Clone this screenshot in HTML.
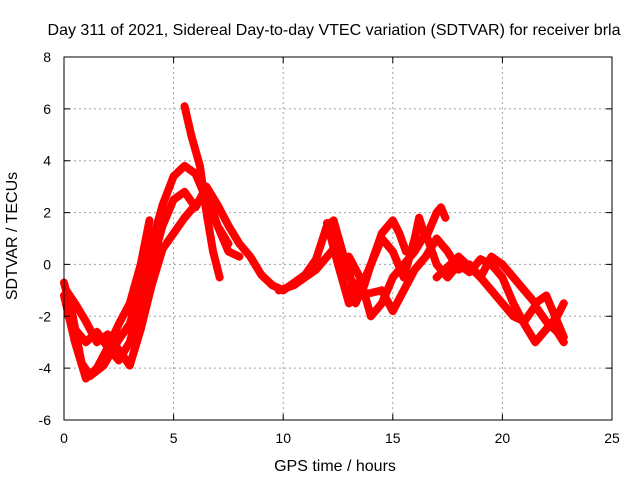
<!DOCTYPE html>
<html><head><meta charset="utf-8"><style>
body{margin:0;background:#fff;}
svg{display:block;font-family:"Liberation Sans",sans-serif;}
</style></head><body>
<svg id="chart" width="640" height="480">
<rect width="640" height="480" fill="#fff"/>
<g id="grid"></g><g id="series"></g><g id="axes"></g>
</svg>
<script>
const xTicks=[0,5,10,15,20,25];
const yTicks=[-6,-4,-2,0,2,4,6,8];
const s1=[[0,-0.7],[0.4,-2],[0.8,-3.8],[1.2,-4.3],[1.8,-3.9],[2.5,-2.9],[3,-2.3],[3.5,-0.8],[4,0.8],[4.5,2.3],[5,3.4],[5.5,3.8],[6,3.5],[6.5,2.5],[7,1.5],[7.5,0.8]];
const s2=[[0,-1.2],[0.5,-3],[1,-4.4],[1.5,-4],[2,-3.2],[2.5,-2.3],[3,-1.5],[3.5,0],[3.9,1.7]];
const s3=[[0.2,-2],[0.5,-2.5],[1,-3],[1.5,-2.6],[2,-3.2],[2.5,-3.7],[3,-3],[3.5,-1.5],[4,0],[4.5,1.5],[5,2.5],[5.5,2.8],[6,2.2],[6.5,3.0],[7,2.3],[7.5,1.5],[8,0.8],[8.5,0.3],[9,-0.4],[9.5,-0.8]];
const s4=[[0.1,-1],[0.5,-1.5],[1,-2.2],[1.5,-3],[2,-2.7],[2.5,-3.3],[3,-3.9],[3.5,-2.5],[4,-0.8],[4.5,0.6],[5,1.2],[5.5,1.8],[6,2.3],[6.5,2.8],[7,1.5],[7.5,0.5],[8,0.3]];
const s5=[[5.5,6.1],[5.8,5],[6.2,3.8],[6.5,2],[6.8,0.5],[7.1,-0.5]];
const s6=[[9.5,-0.8],[10,-1],[10.5,-0.7],[11,-0.4],[11.5,0.2],[12,1.5],[12.3,1.7],[12.7,0.5],[13,-0.5],[13.5,-1],[14,0],[14.5,1.2],[15,1.7],[15.3,1.2],[15.6,0.5]];
const s7=[[9.8,-1],[10.5,-0.8],[11,-0.5],[11.5,-0.2],[12,0.3],[12.5,0.8],[13,-0.2],[13.3,-1.5],[13.7,-0.8],[14,0],[14.5,1],[15,0.5],[15.5,-0.5],[16,1],[16.2,1.8],[16.5,1],[17,2],[17.2,2.2],[17.4,1.8]];
const s8=[[13,0.3],[13.5,-0.5],[14,-2],[14.5,-1.5],[15,-0.5],[15.5,0],[16,0.5],[16.5,1.2],[17,0],[17.5,-0.5],[18,0],[18.5,-0.3],[19,0.2],[19.5,0],[20,-0.5],[20.5,-1.5],[21,-2.3],[21.5,-3],[22,-2.5],[22.5,-2],[22.8,-1.5]];
const s9=[[12,1.6],[12.5,0],[13,-1.5],[13.5,-1.2],[14.5,-1],[15,-1.8],[15.5,-1],[16,-0.2],[16.5,0.3],[17,1],[17.5,0.5],[18,-0.2],[18.5,0],[19,-0.5],[19.5,0.3],[20,0],[20.5,-0.5],[21,-1],[21.5,-1.5],[22,-1.2],[22.5,-2.2],[22.8,-2.8]];
const s10=[[17,-0.5],[18,0.3],[19,-0.5],[20,-1.5],[20.5,-2],[21,-2.2],[21.5,-1.6],[22,-2.2],[22.5,-2.6],[22.8,-3]];
const allSeries=[s1,s2,s3,s4,s5,s6,s7,s8,s9,s10];

const X0=64,X1=612,Y0=420,Y1=57;
const xs=h=>X0+(h-0)/25*(X1-X0);
const ys=v=>Y0-(v+6)/14*(Y0-Y1);
const NS="http://www.w3.org/2000/svg";
function mk(tag,attrs,parent){const e=document.createElementNS(NS,tag);for(const k in attrs)e.setAttribute(k,attrs[k]);parent.appendChild(e);return e;}
const grid=document.getElementById('grid'),axes=document.getElementById('axes'),ser=document.getElementById('series');
xTicks.forEach(t=>{
  if(t>0&&t<25){const l=mk('line',{x1:xs(t),x2:xs(t),y1:Y1,y2:Y0,stroke:'#a0a0a0','stroke-dasharray':'2,3'},grid);
  
  }
  const tk=mk('path',{d:`M${xs(t)},${Y0}v-6M${xs(t)},${Y1}v6`,stroke:'#000'},axes);
  
  
  const tx=mk('text',{x:xs(t),y:Y0+23,'text-anchor':'middle','font-size':'14',fill:'#000'},axes);tx.textContent=t;
  
  
});
yTicks.forEach(t=>{
  if(t>-6&&t<8){const l=mk('line',{x1:X0,x2:X1,y1:ys(t),y2:ys(t),stroke:'#a0a0a0','stroke-dasharray':'2,3'},grid);
  
  }
  const tk=mk('path',{d:`M${X0},${ys(t)}h6M${X1},${ys(t)}h-6`,stroke:'#000'},axes);
  
  
  const tx=mk('text',{x:X0-13,y:ys(t)+5,'text-anchor':'end','font-size':'14',fill:'#000'},axes);tx.textContent=t;
  
  
});
const fr=mk('rect',{x:X0,y:Y1,width:X1-X0,height:Y0-Y1,fill:'none',stroke:'#000','stroke-width':1},axes);


allSeries.forEach((s,i)=>{
  const pl=mk('polyline',{points:s.map(p=>xs(p[0])+','+ys(p[1])).join(' '),fill:'none',stroke:'#ff0000','stroke-width':8,'stroke-linejoin':'round','stroke-linecap':'round'},ser);
  
  
  s.forEach(p=>{
    const m=mk('path',{d:`M${xs(p[0])-4},${ys(p[1])}h8M${xs(p[0])},${ys(p[1])-4}v8`,stroke:'#ff0000','stroke-width':1.5},ser);
    
    
  });
});
const title=mk('text',{x:334,y:35,'text-anchor':'middle','font-size':'16',fill:'#000'},axes);
title.textContent='Day 311 of 2021, Sidereal Day-to-day VTEC variation (SDTVAR) for receiver brla';


const xl=mk('text',{x:335,y:471,'text-anchor':'middle','font-size':'16',fill:'#000'},axes);
xl.textContent='GPS time / hours';


const yl=mk('text',{x:0,y:0,'text-anchor':'middle','font-size':'16',fill:'#000',transform:'translate(17,236) rotate(-90)'},axes);
yl.textContent='SDTVAR / TECUs';


</script>
</body></html>
